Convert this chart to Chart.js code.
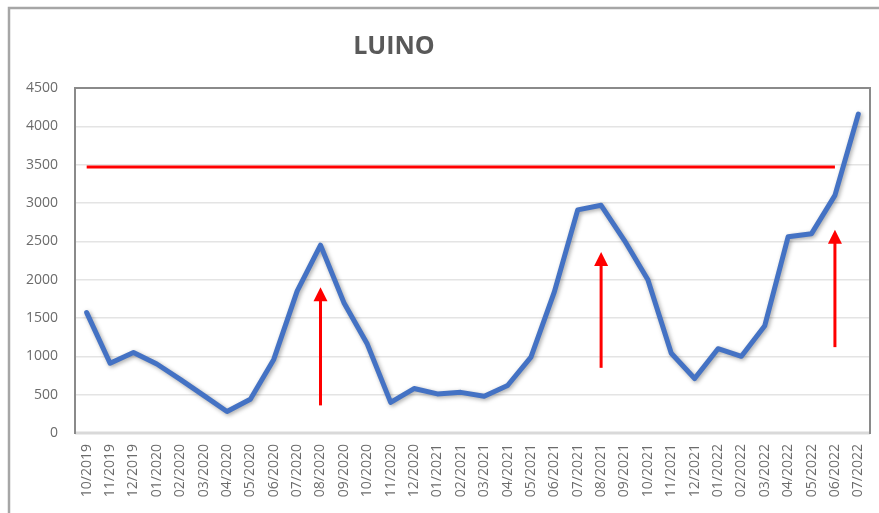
<!DOCTYPE html>
<html>
<head>
<meta charset="utf-8">
<script src="https://cdn.jsdelivr.net/npm/chart.js@4/dist/chart.umd.min.js"></script>
<style>
  html, body { margin: 0; padding: 0; background: #ffffff; }
  #wrap { position: relative; width: 879px; height: 513px; }
</style>
</head>
<body>
<div id="wrap"><canvas id="c" width="879" height="513"></canvas></div>
<script>
const chartTitle = 'LUINO';
const months = ['10/2019','11/2019','12/2019','01/2020','02/2020','03/2020','04/2020','05/2020','06/2020','07/2020','08/2020','09/2020','10/2020','11/2020','12/2020','01/2021','02/2021','03/2021','04/2021','05/2021','06/2021','07/2021','08/2021','09/2021','10/2021','11/2021','12/2021','01/2022','02/2022','03/2022','04/2022','05/2022','06/2022','07/2022'];
const luinoValues = [1570, 910, 1050, 900, 700, 490, 280, 440, 960, 1850, 2450, 1700, 1160, 400, 580, 510, 530, 480, 620, 990, 1840, 2910, 2970, 2510, 2000, 1040, 710, 1100, 1000, 1400, 2560, 2600, 3100, 4160];
const thresholdValues = [3470,3470,3470,3470,3470,3470,3470,3470,3470,3470,3470,3470,3470,3470,3470,3470,3470,3470,3470,3470,3470,3470,3470,3470,3470,3470,3470,3470,3470,3470,3470,3470,3470,null];
const yTicks = [0, 500, 1000, 1500, 2000, 2500, 3000, 3500, 4000, 4500];
const arrowMonths = ['08/2020', '08/2021', '06/2022'];
const arrowFrom = [360, 850, 1120];
const arrowTo = [1900, 2360, 2650];

const FONT = '"Open Sans", "DejaVu Sans", sans-serif';

const framePlugin = {
  id: 'frame',
  beforeDraw(chart) {
    const ctx = chart.ctx;
    ctx.save();
    ctx.fillStyle = '#ffffff';
    ctx.fillRect(0, 0, chart.width, chart.height);
    ctx.strokeStyle = '#a6a6a6';
    ctx.lineWidth = 2.5;
    ctx.beginPath();
    ctx.moveTo(9, chart.height + 5);
    ctx.lineTo(9, 8);
    ctx.lineTo(chart.width + 5, 8);
    ctx.stroke();
    // title
    ctx.fillStyle = '#595959';
    ctx.font = 'bold 25px ' + FONT;
    ctx.textAlign = 'center';
    ctx.textBaseline = 'middle';
    ctx.fillText(chartTitle, 394, 47);
    ctx.restore();
  },
  beforeDatasetsDraw(chart) {
    const ctx = chart.ctx;
    const a = chart.chartArea;
    ctx.save();
    ctx.strokeStyle = '#d9d9d9';
    ctx.lineWidth = 3;
    ctx.beginPath();
    ctx.moveTo(a.left, a.bottom);
    ctx.lineTo(a.right, a.bottom);
    ctx.stroke();
    ctx.strokeStyle = '#8a8a8a';
    ctx.lineWidth = 2;
    ctx.beginPath();
    ctx.moveTo(a.left, a.bottom + 1);
    ctx.lineTo(a.left, a.top);
    ctx.lineTo(a.right, a.top);
    ctx.lineTo(a.right, a.bottom + 1);
    ctx.stroke();
    ctx.restore();
  },
  beforeDatasetDraw(chart, args) {
    if (args.index === 0) {
      const ctx = chart.ctx;
      ctx.save();
      ctx.shadowColor = 'rgba(0,0,0,0.35)';
      ctx.shadowBlur = 4;
      ctx.shadowOffsetX = 1.5;
      ctx.shadowOffsetY = 1.5;
    }
  },
  afterDatasetDraw(chart, args) {
    if (args.index === 0) chart.ctx.restore();
  },
  afterDatasetsDraw(chart) {
    const ctx = chart.ctx;
    const xs = chart.scales.x, ys = chart.scales.y;
    ctx.save();
    ctx.strokeStyle = '#ff0000';
    ctx.fillStyle = '#ff0000';
    ctx.lineWidth = 3;
    for (let i = 0; i < arrowMonths.length; i++) {
      const x = xs.getPixelForValue(months.indexOf(arrowMonths[i]));
      const y0 = ys.getPixelForValue(arrowFrom[i]);
      const y1 = ys.getPixelForValue(arrowTo[i]);
      const headH = 14, headW = 7;
      ctx.beginPath();
      ctx.moveTo(x, y0);
      ctx.lineTo(x, y1 + headH - 1);
      ctx.stroke();
      ctx.beginPath();
      ctx.moveTo(x, y1);
      ctx.lineTo(x - headW, y1 + headH);
      ctx.lineTo(x + headW, y1 + headH);
      ctx.closePath();
      ctx.fill();
    }
    ctx.restore();
  }
};

new Chart(document.getElementById('c'), {
  type: 'line',
  data: {
    labels: months,
    datasets: [
      {
        label: 'LUINO',
        data: luinoValues,
        borderColor: '#4472c4',
        borderWidth: 5,
        pointRadius: 0,
        tension: 0,
        borderJoinStyle: 'round',
        borderCapStyle: 'round',
        fill: false
      },
      {
        label: 'soglia',
        data: thresholdValues,
        borderColor: '#ff0000',
        borderWidth: 3,
        pointRadius: 0,
        tension: 0,
        fill: false,
        spanGaps: false
      }
    ]
  },
  options: {
    responsive: false,
    devicePixelRatio: 1,
    animation: false,
    layout: { padding: { top: 88, right: 9, left: 1, bottom: 0 } },
    plugins: {
      legend: { display: false },
      title: { display: false },
      tooltip: { enabled: false }
    },
    scales: {
      x: {
        type: 'category',
        offset: true,
        grid: { display: false, drawTicks: false },
        border: { display: false },
        ticks: {
          autoSkip: false,
          minRotation: 90,
          maxRotation: 90,
          padding: 11,
          color: '#6b6b6b',
          font: { family: FONT, size: 14 }
        },
        afterFit(scale) { scale.height = 80; scale.paddingRight = 0; scale.paddingLeft = 0; }
      },
      y: {
        min: 0,
        max: 4500,
        afterBuildTicks(scale) { scale.ticks = yTicks.map(v => ({ value: v })); },
        grid: { color: '#e4e4e4', lineWidth: 1.5, drawTicks: false },
        border: { display: false },
        ticks: {
          padding: 17,
          color: '#6b6b6b',
          font: { family: FONT, size: 14 },
          callback: (v) => String(v)
        },
        afterFit(scale) { scale.width = 74; scale.paddingTop = 0; scale.paddingBottom = 0; }
      }
    }
  },
  plugins: [framePlugin]
});
</script>
</body>
</html>
